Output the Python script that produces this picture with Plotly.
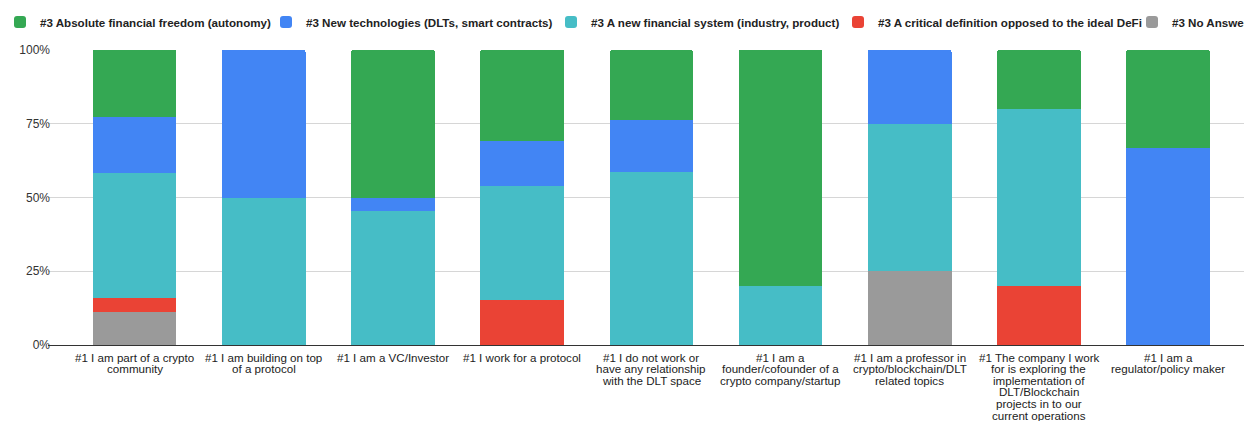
import plotly.graph_objects as go

# ---- data ----
tick_labels = [
    "#1 I am part of a crypto<br>community",
    "#1 I am building on top<br>of a protocol",
    "#1 I am a VC/Investor",
    "#1 I work for a protocol",
    "#1 I do not work or<br>have any relationship<br>with the DLT space",
    "#1 I am a<br>founder/cofounder of a<br>crypto company/startup",
    "#1 I am a professor in<br>crypto/blockchain/DLT<br>related topics",
    "#1 The company I work<br>for is exploring the<br>implementation of<br>DLT/Blockchain<br>projects in to our<br>current operations",
    "#1 I am a<br>regulator/policy maker",
]
positions = list(range(len(tick_labels)))

absolute_freedom = [22.6, 0, 50.0, 30.8, 23.5, 80.0, 0, 20.0, 33.3]
new_technologies = [19.2, 50.0, 4.6, 15.4, 17.6, 0, 25.0, 0, 66.7]
new_fin_system = [42.1, 50.0, 45.4, 38.5, 58.8, 20.0, 50.0, 60.0, 0]
critical_def = [5.0, 0, 0, 15.4, 0, 0, 0, 20.0, 0]
no_answer = [11.1, 0, 0, 0, 0, 0, 25.0, 0, 0]

y_ticks = [0, 25, 50, 75, 100]

# ---- layout constants (page has an 8px body margin) ----
OFF = 8
W, H = 1252 - OFF, 421 - OFF
ML, MR, MT = 48 - OFF, 0, 50 - OFF
MB = H - (345 - OFF)
PW = W - ML - MR
PH = H - MT - MB
slot = 129.2
x_left = -0.5 - (69.9 - 48) / slot
x_right = x_left + PW / slot

series = [
    ("#3 No Answer", no_answer, "#9a9a9a", "legend5", 1132),
    ("#3 A critical definition opposed to the ideal DeFi", critical_def, "#ea4335", "legend4", 838),
    ("#3 A new financial system (industry, product)", new_fin_system, "#46bdc6", "legend3", 551),
    ("#3 New technologies (DLTs, smart contracts)", new_technologies, "#4285f4", "legend2", 266),
    ("#3 Absolute financial freedom (autonomy)", absolute_freedom, "#34a853", "legend", 0),
]

fig = go.Figure()
legend_font = dict(family="Liberation Sans, Arial, sans-serif", size=11.6, color="#222222", weight="bold")
legend_y_page = 22
layout_legends = {}
for name, vals, color, lg, lpx in series:
    fig.add_trace(go.Bar(
        x=positions, y=vals, name=name, marker=dict(color=color, line=dict(width=0)),
        width=0.647, legend=lg, showlegend=True,
    ))
    layout_legends[lg] = dict(
        x=(lpx - OFF - ML) / PW, xanchor="left",
        y=(MT + PH - (legend_y_page - OFF)) / PH, yanchor="middle",
        orientation="h", font=legend_font,
        bgcolor="rgba(0,0,0,0)", borderwidth=0, visible=True,
    )

# x category labels as text lines below the axis
annotations = []
for i, lab in zip(positions, tick_labels):
    for j, line in enumerate(lab.split("<br>")):
        annotations.append(dict(
            x=i, xref="x", y=0, yref="paper", yanchor="middle", xanchor="center",
            yshift=-(12 + j * 11.6), text=line, showarrow=False,
            font=dict(family="Liberation Sans, Arial, sans-serif", size=11.6, color="#222222"),
        ))

fig.update_layout(
    width=W, height=H,
    margin=dict(l=ML, r=MR, t=MT, b=MB, autoexpand=False),
    barmode="stack",
    barcornerradius=2,
    showlegend=True,
    plot_bgcolor="white", paper_bgcolor="white",
    font=dict(family="Liberation Sans, Arial, sans-serif", size=12, color="#222222"),
    annotations=annotations,
    **layout_legends,
)
fig.update_xaxes(
    range=[x_left, x_right], tickvals=positions, ticktext=[""] * len(positions),
    showgrid=False, zeroline=False, showline=False, ticks="",
)
fig.update_yaxes(
    range=[0, 100], tickvals=y_ticks, ticktext=[f"{v}%" for v in y_ticks],
    showgrid=True, gridcolor="#d6d6d6", gridwidth=1,
    zeroline=True, zerolinecolor="#333333", zerolinewidth=1,
    ticks="", tickfont=dict(size=12, color="#333333"), ticklabelstandoff=-3,
)

fig.write_html("out.html")
